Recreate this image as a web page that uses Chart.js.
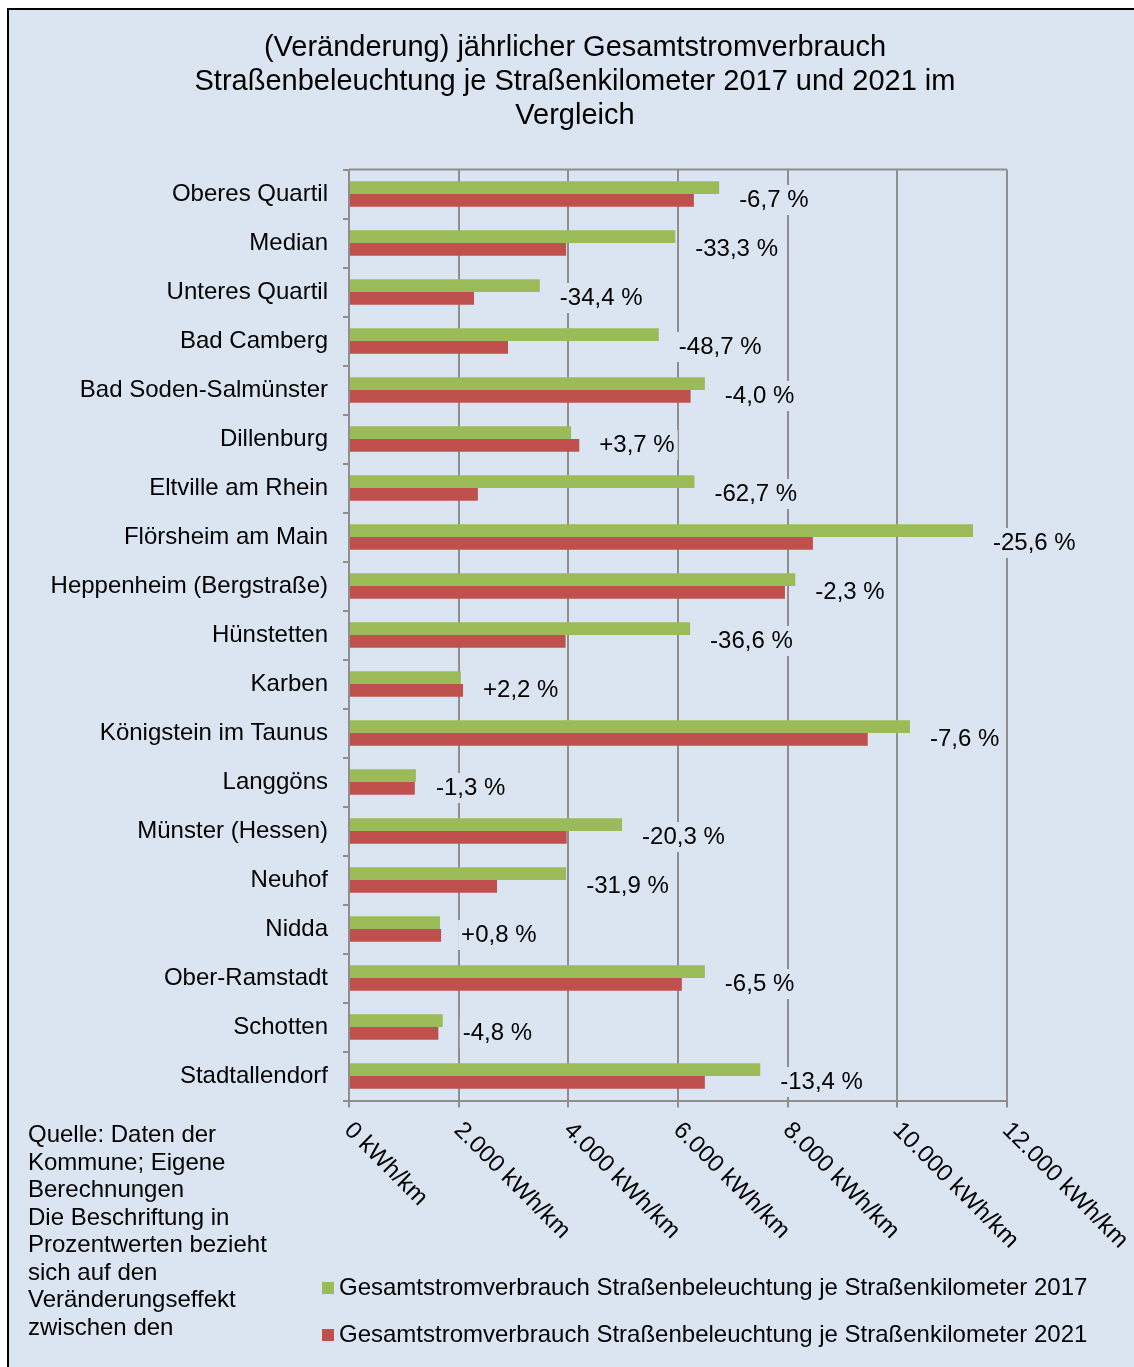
<!DOCTYPE html>
<html lang="de">
<head>
<meta charset="utf-8">
<title>Gesamtstromverbrauch Straßenbeleuchtung je Straßenkilometer</title>
<script src="https://cdn.jsdelivr.net/npm/chart.js@4.4.1/dist/chart.umd.min.js"></script>
<style>
  body { margin: 0; background: #fff; overflow: hidden; font-family: "Liberation Sans", Arial, sans-serif; color: #000; }
  #frame { position: absolute; left: 7px; top: 8px; width: 1140px; height: 1370px; border: 2px solid #000; background: #dbe5f1; }
  #wrap { position: absolute; left: 0; top: 0; width: 1134px; height: 1367px; }
  #title { position: absolute; left: 16px; width: 1118px; top: 29px; text-align: center; font-size: 29px; line-height: 34px; }
  #note { position: absolute; left: 28px; top: 1120px; font-size: 24px; line-height: 27.5px; }
  #legend { position: absolute; left: 322px; top: 1272px; font-size: 24px; }
  .item { height: 30px; line-height: 30px; margin-bottom: 17px; white-space: nowrap; }
  .box { display: inline-block; width: 12px; height: 12px; margin-right: 5px; vertical-align: 1px; }
</style>
</head>
<body>
<div id="frame"></div>
<div id="wrap"><canvas id="myChart"></canvas></div>
<div id="title">(Veränderung) jährlicher Gesamtstromverbrauch<br>Straßenbeleuchtung je Straßenkilometer 2017 und 2021 im<br>Vergleich</div>
<div id="note">Quelle: Daten der<br>Kommune; Eigene<br>Berechnungen<br>Die Beschriftung in<br>Prozentwerten bezieht<br>sich auf den<br>Veränderungseffekt<br>zwischen den</div>
<div id="legend"></div>
<script>
const towns = ['Oberes Quartil', 'Median', 'Unteres Quartil', 'Bad Camberg', 'Bad Soden-Salmünster',
    'Dillenburg', 'Eltville am Rhein', 'Flörsheim am Main', 'Heppenheim (Bergstraße)', 'Hünstetten',
    'Karben', 'Königstein im Taunus', 'Langgöns', 'Münster (Hessen)', 'Neuhof', 'Nidda',
    'Ober-Ramstadt', 'Schotten', 'Stadtallendorf'];

// kWh je Straßenkilometer
const kwh2017 = [6750, 5950, 3480, 5650, 6490, 4050, 6300, 11380, 8140, 6220,
    2040, 10230, 1220, 4980, 3960, 1660, 6490, 1710, 7500];
const kwh2021 = [6290, 3960, 2280, 2900, 6230, 4200, 2350, 8460, 7950, 3950,
    2080, 9460, 1200, 3970, 2700, 1680, 6070, 1630, 6490];

const changeLabels = ['-6,7 %', '-33,3 %', '-34,4 %', '-48,7 %', '-4,0 %', '+3,7 %', '-62,7 %',
    '-25,6 %', '-2,3 %', '-36,6 %', '+2,2 %', '-7,6 %', '-1,3 %', '-20,3 %', '-31,9 %',
    '+0,8 %', '-6,5 %', '-4,8 %', '-13,4 %'];

const xTicks = [0, 2000, 4000, 6000, 8000, 10000, 12000];

const FONT = '"Liberation Sans", Arial, sans-serif';
const BG = '#dbe5f1';
const GRID = '#8e8e8e';

Chart.defaults.font.family = FONT;
Chart.defaults.font.size = 24;
Chart.defaults.color = '#000';

function fmtNum(v){
    return v.toString().replace(/\B(?=(\d{3})+(?!\d))/g, '.');
}

const extras = {
    id: 'extras',
    afterDraw(chart){
        const ctx = chart.ctx;
        const area = chart.chartArea;
        const x = chart.scales.x;
        ctx.save();
        // obere Begrenzung der Zeichenfläche
        ctx.strokeStyle = GRID;
        ctx.lineWidth = 2;
        ctx.beginPath();
        ctx.moveTo(area.left, area.top);
        ctx.lineTo(area.right, area.top);
        ctx.stroke();

        ctx.font = '24px ' + FONT;
        ctx.fillStyle = '#000';
        ctx.textAlign = 'left';
        ctx.textBaseline = 'middle';

        // schräge Achsenbeschriftung
        xTicks.forEach(v=>{
            const px = x.getPixelForValue(v);
            ctx.save();
            ctx.translate(px - 1, area.bottom + 26);
            ctx.rotate(Math.PI / 4);
            ctx.fillText(fmtNum(v) + ' kWh/km', 0, 0);
            ctx.restore();
        });

        // Prozent-Beschriftung
        const m0 = chart.getDatasetMeta(0);
        const m1 = chart.getDatasetMeta(1);
        changeLabels.forEach((txt, i)=>{
            const b0 = m0.data[i], b1 = m1.data[i];
            const lx = Math.max(b0.x, b1.x) + 20;
            const ly = (b0.y + b1.y) / 2 + 6;
            const w = ctx.measureText(txt).width;
            ctx.fillStyle = BG;
            ctx.fillRect(lx - 3, ly - 15, w + 6, 30);
            ctx.fillStyle = '#000';
            ctx.fillText(txt, lx, ly);
        });
        ctx.restore();
    }
};

const ctx = document.querySelector('#myChart').getContext('2d');
const myChart = new Chart(ctx, {
    type: 'bar',
    data: {
        labels: towns,
        datasets: [{
            label: 'Gesamtstromverbrauch Straßenbeleuchtung je Straßenkilometer 2017',
            data: kwh2017,
            backgroundColor: '#9bbb59',
            borderWidth: 0
        },{
            label: 'Gesamtstromverbrauch Straßenbeleuchtung je Straßenkilometer 2021',
            data: kwh2021,
            backgroundColor: '#c0504d',
            borderWidth: 0
        }]
    },
    options: {
        indexAxis: 'y',
        responsive: true,
        maintainAspectRatio: false,
        animation: false,
        datasets: { bar: { categoryPercentage: 0.52, barPercentage: 1 } },
        layout: { padding: { left: 16, right: 127, top: 169.5, bottom: 256.5 } },
        plugins: {
            legend: { display: false },
            title: { display: false },
            tooltip: { enabled: false }
        },
        scales: {
            x: {
                min: 0,
                max: 12000,
                ticks: { stepSize: 2000, display: false },
                grid: { color: GRID, lineWidth: 2, tickLength: 7 },
                border: { color: GRID, width: 2 },
                afterFit: s => { s.height = 10; }
            },
            y: {
                ticks: { padding: 15, color: '#000', font: { size: 24 } },
                grid: { offset: true, drawOnChartArea: false, color: GRID, lineWidth: 2, tickLength: 6 },
                border: { color: GRID, width: 2 },
                afterFit: s => { s.width = 333; }
            }
        }
    },
    plugins: [extras]
});

// Legende aus den Datensätzen
const legend = document.querySelector('#legend');
myChart.data.datasets.forEach(ds=>{
    const item = document.createElement('div');
    item.className = 'item';
    const box = document.createElement('span');
    box.className = 'box';
    box.style.background = ds.backgroundColor;
    item.appendChild(box);
    item.appendChild(document.createTextNode(ds.label));
    legend.appendChild(item);
});
</script>
</body>
</html>
